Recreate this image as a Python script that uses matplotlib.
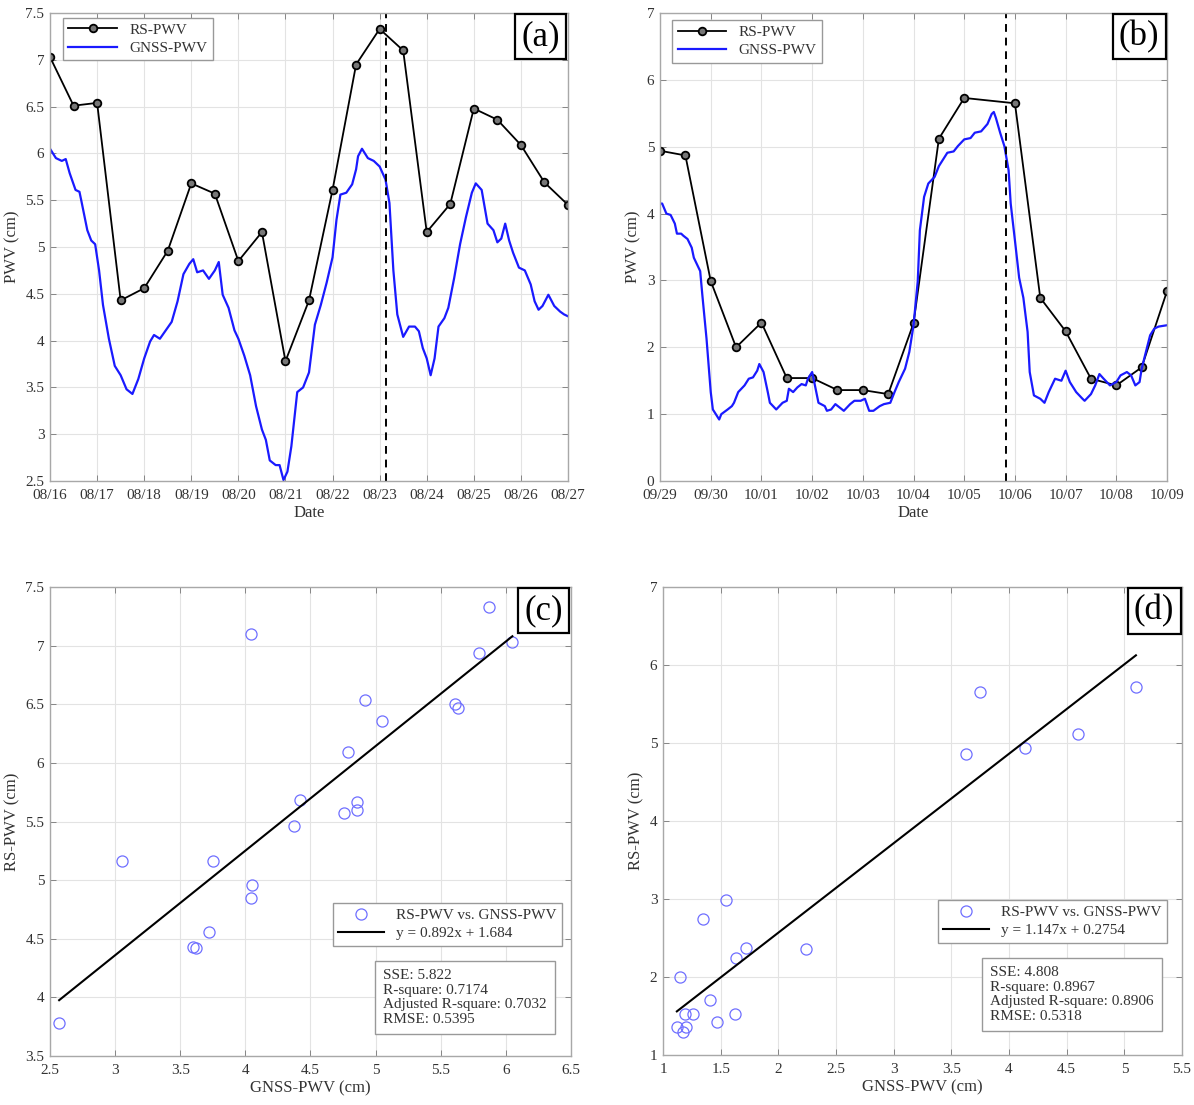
import numpy as np
import matplotlib
matplotlib.use('Agg')
import matplotlib.pyplot as plt
from matplotlib.ticker import FormatStrFormatter

plt.rcParams['font.family'] = ['Liberation Serif', 'DejaVu Serif']

# ---------------------------------------------------------------------------
# (a) 08/16 - 08/27, hours since 08/16 00:00
DATES_A = ['08/16', '08/17', '08/18', '08/19', '08/20', '08/21',
           '08/22', '08/23', '08/24', '08/25', '08/26', '08/27']
RS_A_HOURS = np.arange(0, 265, 12)
RS_A = [7.03, 6.51, 6.54, 4.43, 4.56, 4.96, 5.68, 5.57, 4.85, 5.16, 3.78, 4.43,
        5.61, 6.95, 7.33, 7.10, 5.16, 5.46, 6.48, 6.36, 6.09, 5.69, 5.45]
GNSS_A_HOURS = [0, 3, 6, 8, 10, 13, 15, 16, 19, 21, 23, 25, 27, 30, 33, 36, 39,
                42, 45, 48, 51, 53, 56, 59, 62, 65, 68, 71, 73, 75, 78, 81, 84,
                86, 88, 91, 94, 96, 99, 102, 105, 108, 110, 112, 115, 117, 119,
                121, 123, 126, 129, 132, 135, 138, 141, 144, 146, 148, 151, 154,
                156, 157, 159, 162, 165, 168, 171, 173, 175, 177, 180, 183, 186,
                188, 190, 192, 194, 196, 198, 201, 203, 206, 209, 212, 215, 217,
                220, 223, 226, 228, 230, 232, 234, 236, 239, 242, 245, 247, 249,
                251, 254, 257, 260, 262, 264]
GNSS_A = [6.05, 5.95, 5.92, 5.94, 5.79, 5.61, 5.59, 5.49, 5.18, 5.07, 5.03,
          4.75, 4.38, 4.02, 3.73, 3.63, 3.48, 3.43, 3.59, 3.81, 3.99, 4.06,
          4.02, 4.11, 4.20, 4.42, 4.71, 4.82, 4.87, 4.73, 4.75, 4.66, 4.75,
          4.84, 4.49, 4.35, 4.11, 4.02, 3.84, 3.63, 3.30, 3.05, 2.94, 2.72,
          2.67, 2.67, 2.51, 2.60, 2.87, 3.45, 3.50, 3.66, 4.17, 4.38, 4.62,
          4.89, 5.29, 5.56, 5.58, 5.67, 5.83, 5.97, 6.05, 5.95, 5.92, 5.86,
          5.72, 5.47, 4.75, 4.28, 4.04, 4.15, 4.15, 4.10, 3.92, 3.81, 3.63,
          3.81, 4.15, 4.24, 4.35, 4.67, 5.03, 5.32, 5.58, 5.68, 5.61, 5.25,
          5.18, 5.05, 5.09, 5.25, 5.07, 4.94, 4.78, 4.75, 4.60, 4.42, 4.33,
          4.37, 4.49, 4.37, 4.31, 4.28, 4.26]
EVENT_A = 171

# (b) 09/29 - 10/09, hours since 09/29 00:00
DATES_B = ['09/29', '09/30', '10/01', '10/02', '10/03', '10/04',
           '10/05', '10/06', '10/07', '10/08', '10/09']
RS_B_HOURS = [0, 12, 24, 36, 48, 60, 72, 84, 96, 108, 120, 132, 144,
              168, 180, 192, 204, 216, 228, 240]
RS_B = [4.94, 4.87, 2.99, 2.00, 2.37, 1.54, 1.54, 1.36, 1.36, 1.30, 2.36,
        5.12, 5.73, 5.65, 2.74, 2.24, 1.53, 1.43, 1.70, 2.84]
GNSS_B_HOURS = [0, 1, 3, 5, 7, 8, 10, 11, 13, 15, 16, 19, 20, 22, 24, 25, 28,
                29, 32, 34, 35, 37, 40, 42, 44, 46, 47, 49, 51, 52, 55, 58, 60,
                61, 63, 65, 67, 69, 70, 72, 73, 75, 78, 79, 81, 83, 85, 87, 90,
                92, 95, 97, 99, 101, 104, 106, 109, 111, 113, 116, 118, 120,
                122, 123, 125, 127, 130, 132, 134, 136, 139, 141, 144, 147, 149,
                152, 155, 157, 158, 159, 161, 163, 165, 166, 168, 170, 172, 174,
                175, 177, 180, 182, 184, 187, 190, 192, 194, 197, 200, 201, 204,
                206, 208, 210, 213, 216, 218, 221, 223, 225, 227, 228, 230, 232,
                234, 236, 240]
GNSS_B = [4.15, 4.15, 4.00, 3.98, 3.85, 3.70, 3.70, 3.67, 3.62, 3.49, 3.34,
          3.14, 2.79, 2.13, 1.33, 1.07, 0.92, 1.00, 1.07, 1.12, 1.17, 1.33,
          1.43, 1.53, 1.55, 1.65, 1.75, 1.63, 1.33, 1.17, 1.07, 1.17, 1.20,
          1.38, 1.33, 1.40, 1.45, 1.43, 1.53, 1.63, 1.48, 1.17, 1.12, 1.05,
          1.07, 1.15, 1.10, 1.05, 1.15, 1.20, 1.20, 1.23, 1.05, 1.05, 1.12,
          1.15, 1.17, 1.33, 1.48, 1.68, 1.93, 2.33, 2.99, 3.75, 4.25, 4.45,
          4.55, 4.71, 4.81, 4.91, 4.93, 5.01, 5.11, 5.13, 5.21, 5.23, 5.34,
          5.49, 5.52, 5.43, 5.21, 5.01, 4.65, 4.15, 3.60, 3.04, 2.74, 2.23,
          1.63, 1.28, 1.23, 1.17, 1.33, 1.53, 1.50, 1.65, 1.48, 1.33, 1.23,
          1.20, 1.30, 1.43, 1.60, 1.53, 1.43, 1.48, 1.58, 1.63, 1.58, 1.43,
          1.48, 1.68, 1.93, 2.18, 2.28, 2.31, 2.33]
EVENT_B = 164

# (c) scatter for period (a)
SC_C_X = [2.57, 3.05, 3.60, 3.62, 3.72, 3.75, 4.04, 4.05, 4.04, 4.37, 4.42,
          4.76, 4.86, 4.86, 4.79, 4.92, 5.05, 5.61, 5.63, 5.79, 5.87, 6.05]
SC_C_Y = [3.78, 5.16, 4.43, 4.42, 4.56, 5.16, 4.85, 4.96, 7.10, 5.46, 5.68,
          5.57, 5.67, 5.60, 6.09, 6.54, 6.36, 6.50, 6.47, 6.94, 7.33, 7.03]
FIT_C = (0.892, 1.684)
STATS_C = ['SSE: 5.822', 'R-square: 0.7174',
           'Adjusted R-square: 0.7032', 'RMSE: 0.5395']

# (d) scatter for period (b)
SC_D_X = [1.12, 1.15, 1.17, 1.19, 1.20, 1.26, 1.35, 1.41, 1.47, 1.55, 1.62,
          1.63, 1.72, 2.24, 3.63, 3.75, 4.14, 4.60, 5.10]
SC_D_Y = [1.36, 2.00, 1.29, 1.53, 1.36, 1.52, 2.74, 1.71, 1.43, 2.99, 1.53,
          2.24, 2.37, 2.36, 4.86, 5.65, 4.94, 5.11, 5.72]
FIT_D = (1.147, 0.2754)
STATS_D = ['SSE: 4.808', 'R-square: 0.8967',
           'Adjusted R-square: 0.8906', 'RMSE: 0.5318']

# ---------------------------------------------------------------------------
FS = 11
TXT = '#333333'
SPINE = '#a8a8a8'


def style(ax):
    for s in ax.spines.values():
        s.set_color(SPINE)
        s.set_linewidth(1.0)
    ax.tick_params(direction='in', top=True, right=True, length=4, width=0.6,
                   color='#777777', labelcolor=TXT, labelsize=FS)
    ax.tick_params(axis='x', pad=6)
    ax.tick_params(axis='y', pad=4)
    ax.grid(True, color='#e3e3e3', lw=0.8)
    ax.set_axisbelow(True)


def panel_label(ax, s):
    ax.text(0.985, 0.985, s, transform=ax.transAxes, ha='right', va='top',
            fontsize=25, color='black', zorder=10,
            bbox=dict(boxstyle='square,pad=0.18', fc='white', ec='black', lw=1.6))


def time_panel(ax, rs_t, rs, g_t, g, event, dates, ylim, yticks, ylabel):
    ax.plot(rs_t, rs, '-o', color='black', lw=1.3, ms=5.5, mfc='#777777',
            mec='black', mew=1.3, label='RS-PWV')
    ax.plot(g_t, g, '-', color='#1a1aff', lw=1.6, label='GNSS-PWV')
    ax.axvline(event, color='black', ls='--', lw=1.4, dashes=(4, 3))
    ticks = np.arange(len(dates)) * 24
    ax.set_xticks(ticks)
    ax.set_xticklabels(dates)
    ax.set_xlim(ticks[0], ticks[-1])
    ax.set_ylim(*ylim)
    ax.set_yticks(yticks)
    ax.yaxis.set_major_formatter(FormatStrFormatter('%g'))
    ax.set_xlabel('Date', fontsize=FS + 1, color=TXT, labelpad=2)
    ax.set_ylabel(ylabel, fontsize=FS + 1, color=TXT)
    style(ax)


def scatter_panel(ax, x, y, fit, stats, xlim, ylim, xticks, yticks,
                  leg_anchor, stats_pos):
    ax.plot(x, y, 'o', ls='none', ms=8, mfc='none', mec='#6f6fff', mew=0.9,
            label='RS-PWV vs. GNSS-PWV')
    xx = np.array([min(x), max(x)])
    ax.plot(xx, fit[0] * xx + fit[1], color='black', lw=1.5,
            label=f'y = {fit[0]:g}x + {fit[1]:g}')
    ax.set_xlim(*xlim)
    ax.set_ylim(*ylim)
    ax.set_xticks(xticks)
    ax.set_yticks(yticks)
    ax.xaxis.set_major_formatter(FormatStrFormatter('%g'))
    ax.yaxis.set_major_formatter(FormatStrFormatter('%g'))
    ax.set_xlabel('GNSS-PWV (cm)', fontsize=FS + 1, color=TXT, labelpad=2)
    ax.set_ylabel('RS-PWV (cm)', fontsize=FS + 1, color=TXT)
    leg = ax.legend(loc='upper right', bbox_to_anchor=leg_anchor, fontsize=FS,
                    fancybox=False, framealpha=1, edgecolor='#999999',
                    borderaxespad=0, handlelength=3.0, borderpad=0.35,
                    labelspacing=0.3)
    for t in leg.get_texts():
        t.set_color(TXT)
    ax.text(stats_pos[0], stats_pos[1], '\n'.join(stats), transform=ax.transAxes,
            ha='left', va='top', fontsize=FS, color=TXT, linespacing=1.15,
            bbox=dict(boxstyle='square,pad=0.55', fc='white', ec='#999999', lw=1.0))
    style(ax)


fig = plt.figure(figsize=(11.94, 11.05), dpi=100)
ax_a = fig.add_axes([0.0419, 0.5647, 0.4338, 0.4235])
ax_b = fig.add_axes([0.5528, 0.5647, 0.4246, 0.4235])
ax_c = fig.add_axes([0.0419, 0.0443, 0.4363, 0.4244])
ax_d = fig.add_axes([0.5553, 0.0452, 0.4347, 0.4235])

time_panel(ax_a, RS_A_HOURS, RS_A, GNSS_A_HOURS, GNSS_A, EVENT_A, DATES_A,
           (2.5, 7.5), np.arange(2.5, 7.51, 0.5), 'PWV (cm)')
time_panel(ax_b, RS_B_HOURS, RS_B, GNSS_B_HOURS, GNSS_B, EVENT_B, DATES_B,
           (0, 7), np.arange(0, 8), 'PWV (cm)')
for ax, anchor in [(ax_a, (0.025, 0.99)), (ax_b, (0.024, 0.985))]:
    leg = ax.legend(loc='upper left', bbox_to_anchor=anchor, fontsize=FS,
                    fancybox=False, framealpha=1, edgecolor='#999999',
                    borderaxespad=0, handlelength=3.2, borderpad=0.35,
                    labelspacing=0.3)
    for t in leg.get_texts():
        t.set_color(TXT)

scatter_panel(ax_c, SC_C_X, SC_C_Y, FIT_C, STATS_C, (2.5, 6.5), (3.5, 7.5),
              np.arange(2.5, 6.51, 0.5), np.arange(3.5, 7.51, 0.5),
              (0.983, 0.326), (0.64, 0.185))
scatter_panel(ax_d, SC_D_X, SC_D_Y, FIT_D, STATS_D, (1, 5.5), (1, 7),
              np.arange(1, 5.51, 0.5), np.arange(1, 7.1, 1),
              (0.971, 0.331), (0.63, 0.19))

for ax, s in zip([ax_a, ax_b, ax_c, ax_d], ['(a)', '(b)', '(c)', '(d)']):
    panel_label(ax, s)

fig.savefig('out.png', dpi=100)
